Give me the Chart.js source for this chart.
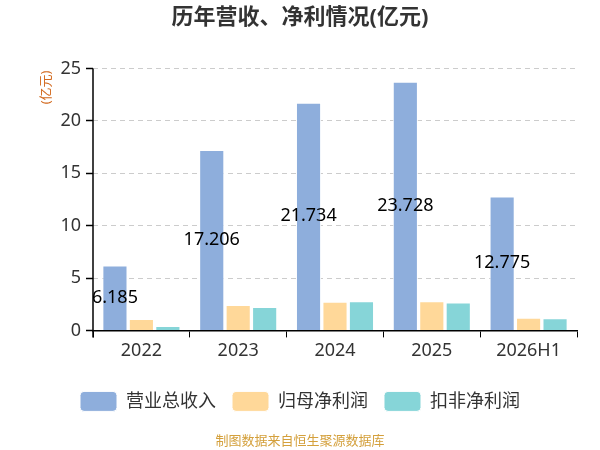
<!DOCTYPE html>
<html><head><meta charset="utf-8">
<script src="https://cdn.jsdelivr.net/npm/chart.js@4/dist/chart.umd.min.js"></script>
<style>html,body{margin:0;padding:0;background:#fff}#w{width:600px;height:450px}</style>
</head><body><div id="w"><canvas id="c"></canvas></div>
<script>
const categories = ["2022","2023","2024","2025","2026H1"];
const revenue = [6.185, 17.206, 21.734, 23.728, 12.775];
const netProfit = [1.08, 2.42, 2.73, 2.77, 1.21];
const deductedProfit = [0.41, 2.23, 2.77, 2.67, 1.15];
const yTicks = [0,5,10,15,20,25];
const FONT = '"Noto Sans", "Noto Sans CJK SC", sans-serif';

const labelPlugin = {
  id: 'vlabels',
  afterDatasetsDraw(chart) {
    const ctx = chart.ctx;
    const meta = chart.getDatasetMeta(0);
    ctx.save();
    ctx.font = '18px ' + FONT;
    ctx.fillStyle = '#000';
    ctx.textAlign = 'center';
    ctx.textBaseline = 'middle';
    meta.data.forEach((bar, i) => {
      const y = (bar.y + bar.base) / 2;
      ctx.fillText(revenue[i].toFixed(3), bar.x, y);
    });
    ctx.restore();
  }
};
const axisPlugin = {
  id: 'yaxisextras',
  afterDraw(chart) {
    const ctx = chart.ctx;
    const a = chart.chartArea;
    ctx.save();
    ctx.strokeStyle = '#000';
    ctx.lineWidth = 1.5;
    ctx.beginPath();
    ctx.moveTo(a.left, a.top);
    ctx.lineTo(a.left, a.bottom + 7);
    ctx.stroke();
    ctx.font = '13px ' + FONT;
    ctx.fillStyle = '#D2691E';
    ctx.translate(46, a.top + 19);
    ctx.rotate(-Math.PI/2);
    ctx.textAlign = 'center';
    ctx.textBaseline = 'middle';
    ctx.fillText('(亿元)', 0, 0);
    ctx.restore();
  }
};

new Chart(document.getElementById('c'), {
  type: 'bar',
  data: {
    labels: categories,
    datasets: [
      {label:'营业总收入', data: revenue, backgroundColor:'#8EAEDC', borderColor:'#fff', borderWidth:1},
      {label:'归母净利润', data: netProfit, backgroundColor:'#FFD899', borderColor:'#fff', borderWidth:1},
      {label:'扣非净利润', data: deductedProfit, backgroundColor:'#86D5D8', borderColor:'#fff', borderWidth:1}
    ]
  },
  options: {
    responsive: true, maintainAspectRatio: false, animation: false,
    datasets: {bar: {categoryPercentage: 0.82, barPercentage: 0.95}},
    layout: {padding: {left: 23, right: 23, top: 4, bottom: 0}},
    plugins: {
      title: {display: true, text: '历年营收、净利情况(亿元)', color:'#333', font: {family: FONT, size: 22, weight: 'bold'}, padding: {top: 1, bottom: 37}},
      subtitle: {display: true, position: 'bottom', text: '制图数据来自恒生聚源数据库', color:'#D4A03C', font:{family: FONT, size: 13}, padding:{top: 12, bottom: 1}},
      legend: {position: 'bottom', labels: {boxWidth: 37, boxHeight: 20, useBorderRadius: true, borderRadius: 4, color:'#333', font:{family: FONT, size: 18}, padding: 16}},
      tooltip: {enabled: false}
    },
    scales: {
      x: {
        afterFit(s){ s.height = 45; },
        grid: {display: true, drawOnChartArea: false, drawTicks: true, tickLength: 7, color: '#000', offset: true},
        border: {color: '#000', width: 1.5},
        ticks: {color: '#333', font:{family: FONT, size: 18}, padding: 3}
      },
      y: {
        min: 0, max: 25,
        afterBuildTicks(s){ s.ticks = yTicks.map(v => ({value: v})); },
        afterFit(s){ s.width = 70; },
        grid: {color: '#ccc', tickColor: '#000', tickLength: 7, tickBorderDash: [], tickWidth: 1.5, drawTicks: true},
        border: {display: false, dash: [5,4]},
        ticks: {color: '#333', font:{family: FONT, size: 18}, padding: 5}
      }
    }
  },
  plugins: [labelPlugin, axisPlugin]
});
</script></body></html>
